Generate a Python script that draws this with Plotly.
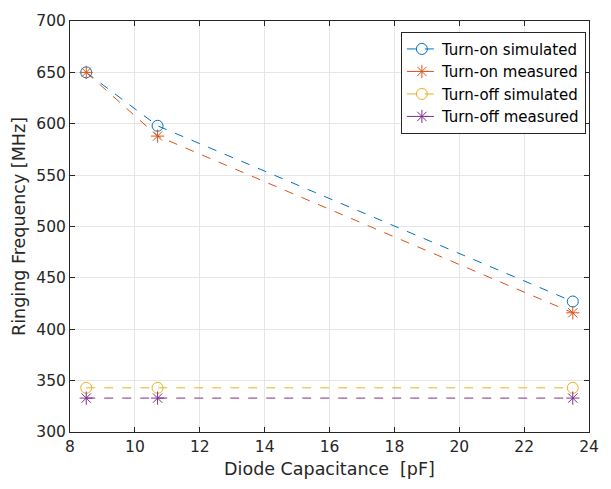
import plotly.graph_objects as go

capacitance = [8.5, 10.7, 23.5]
on_sim = [650, 598, 427]
on_meas = [650, 588, 416]
off_sim = [343, 343, 343]
off_meas = [333, 333, 333]

series = [
    ("Turn-on simulated", on_sim, "#0072BD", "circle-open"),
    ("Turn-on measured", on_meas, "#D95319", "asterisk-open"),
    ("Turn-off simulated", off_sim, "#EDB120", "circle-open"),
    ("Turn-off measured", off_meas, "#7E2F8E", "asterisk-open"),
]

fig = go.Figure()
for name, ys, color, sym in series:
    fig.add_trace(go.Scatter(
        x=capacitance, y=ys, name=name, mode="lines+markers",
        line=dict(color=color, width=1, dash="dash"),
        marker=dict(symbol=sym, size=11, color=color, line=dict(color=color, width=1)),
    ))

axis_common = dict(
    showline=True, linecolor="#262626", linewidth=1, mirror="ticks",
    ticks="inside", ticklen=5, tickcolor="#262626",
    showgrid=True, gridcolor="#e6e6e6", gridwidth=1, zeroline=False,
    tickfont=dict(size=15.5, color="#262626"),
)
fig.update_xaxes(range=[8, 24], dtick=2,
                 title=dict(text="Diode Capacitance\u00a0\u00a0[pF]", font=dict(size=17.5, color="#262626"), standoff=8),
                 **axis_common)
fig.update_yaxes(range=[300, 700], dtick=50,
                 title=dict(text="Ringing Frequency [MHz]", font=dict(size=17.5, color="#262626"), standoff=6),
                 **axis_common)

fig.update_layout(
    width=611, height=489,
    margin=dict(l=70, r=14, t=15, b=57),
    paper_bgcolor="white", plot_bgcolor="white",
    font=dict(family="DejaVu Sans", color="#262626"),
    showlegend=True,
    legend=dict(x=0.994, y=0.974, xanchor="right", yanchor="top",
                bgcolor="white", bordercolor="#262626", borderwidth=1,
                font=dict(size=15, color="#000000"), tracegroupgap=0),
)
fig.write_html("out.html")
